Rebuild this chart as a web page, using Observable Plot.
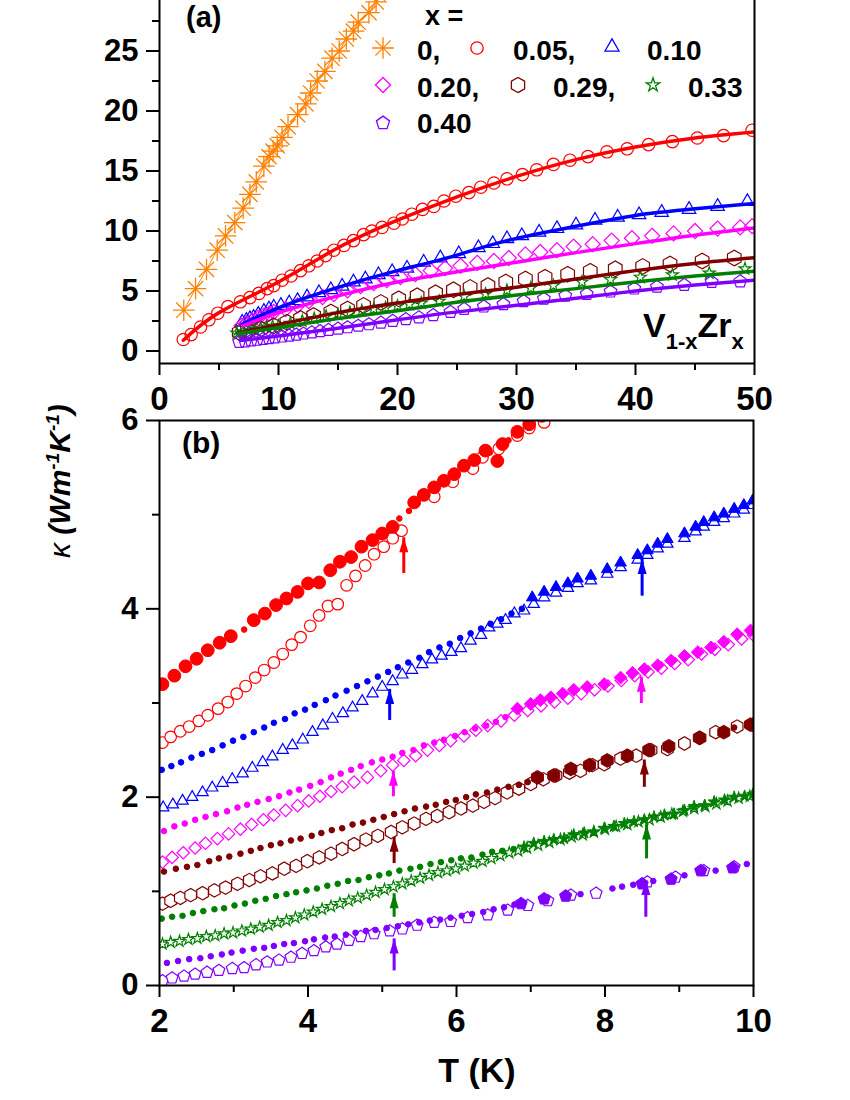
<!DOCTYPE html>
<html><head><meta charset="utf-8">
<script src="https://cdn.jsdelivr.net/npm/d3@7"></script>
<script src="https://cdn.jsdelivr.net/npm/@observablehq/plot@0.6"></script>
<style>
body{margin:0;background:#fff;}
#wrap{position:relative;width:850px;height:1100px;overflow:hidden;}
#wrap svg{overflow:visible;position:absolute;left:0;}
#wrap svg text{font-family:"Liberation Sans",Arial,sans-serif;font-weight:bold;fill:#000;}
</style></head><body><div id="wrap"></div>
<script>
// ---------- tick values ----------
const aXTicks = [0,10,20,30,40,50], aXMinor = [5,15,25,35,45];
const aYTicks = [0,5,10,15,20,25], aYMinor = [2.5,7.5,12.5,17.5,22.5,27.5];
const bXTicks = [2,4,6,8,10], bXMinor = [3,5,7,9];
const bYTicks = [0,2,4,6], bYMinor = [1,3,5];
const aXDomain = [0,50], aYDomain = [-1.04,29.21];
const bXDomain = [2,10], bYDomain = [0,6];

// ---------- panel (a): data points [T, kappa] ----------
const aX00 = [[2.04,3.4],[3.03,5.2],[3.95,6.8],[4.85,8.4],[5.55,9.6],[6.33,10.7],[7.03,11.9],[7.6,13.05],[8.13,14.1],[8.77,15.4],[9.2,16.2],[9.55,16.65],[9.9,17.1],[10.3,17.8],[10.8,18.7],[11.6,19.7],[12.3,20.6],[12.7,21.5],[13.25,22.5],[13.9,23.3],[14.5,24.4],[15.1,25.0],[15.7,26.0],[16.3,26.65],[16.7,27.4],[17.6,28.2],[18.2,29.1],[18.9,30.0],[19.6,31.0]];
const aX05 = [[2.0,0.96],[2.66,1.37],[3.45,2.0],[4.15,2.6],[4.9,3.15],[5.75,3.7],[6.8,4.1],[7.6,4.45],[8.35,4.8],[9.05,5.2],[9.6,5.45],[10.3,5.9],[11.05,6.25],[11.85,6.7],[12.55,7.1],[13.25,7.5],[13.95,7.95],[14.65,8.4],[15.5,8.8],[16.3,9.2],[17.15,9.7],[17.85,10.0],[18.7,10.3],[19.7,10.65],[20.4,11.0],[21.2,11.4],[22.1,11.8],[23.05,12.05],[23.9,12.5],[24.9,12.9],[26.0,13.2],[27.0,13.65],[28.1,14.0],[29.2,14.35],[30.5,14.7],[31.7,15.1],[33.1,15.55],[34.5,15.9],[36.0,16.2],[37.6,16.6],[39.3,16.85],[41.1,17.2],[43.1,17.45],[45.2,17.75],[47.4,17.95],[49.8,18.4]];
const aX10 = [[6.95,2.4],[7.3,2.55],[7.6,2.7],[7.9,2.8],[8.3,3.05],[8.77,3.3],[9.2,3.5],[9.6,3.65],[10.2,3.8],[10.9,4.0],[11.6,4.2],[12.4,4.5],[13.4,4.85],[14.4,5.1],[15.35,5.4],[16.3,5.75],[17.3,6.0],[18.4,6.35],[19.55,6.6],[20.8,6.9],[22.2,7.4],[23.6,7.75],[25.15,8.1],[26.8,8.6],[28.0,8.95],[29.2,9.35],[30.45,9.6],[31.9,9.9],[33.4,10.2],[35.0,10.5],[36.6,10.9],[38.5,11.15],[40.3,11.35],[42.2,11.55],[44.5,11.8],[46.9,12.05],[49.4,12.45]];
const aX20 = [[6.9,2.1],[7.3,2.3],[7.8,2.55],[8.3,2.75],[8.77,2.95],[9.2,3.1],[9.6,3.25],[10.6,3.5],[11.6,3.8],[12.55,4.15],[13.7,4.5],[14.65,4.75],[15.8,5.05],[16.9,5.4],[18.0,5.65],[19.1,5.9],[20.25,6.15],[21.5,6.4],[22.8,6.7],[24.0,6.9],[25.3,7.1],[26.7,7.35],[28.1,7.5],[29.35,7.75],[30.75,8.05],[32.0,8.25],[33.4,8.4],[34.8,8.7],[36.4,8.9],[38.0,9.2],[39.7,9.4],[41.4,9.6],[43.2,9.8],[45.0,10.0],[46.9,10.2],[48.8,10.3],[49.8,10.4]];
const aX29 = [[6.7,1.55],[7.4,1.7],[8.5,1.85],[9.6,2.1],[10.7,2.4],[11.85,2.7],[12.95,2.95],[14.4,3.25],[15.8,3.5],[17.15,3.8],[18.6,4.05],[20.1,4.35],[21.65,4.6],[23.2,4.85],[24.7,5.1],[26.1,5.3],[27.6,5.45],[29.1,5.75],[30.75,6.0],[32.4,6.15],[34.3,6.4],[36.2,6.65],[38.3,6.85],[40.6,7.05],[42.9,7.25],[45.6,7.5],[48.3,7.75]];
const aX33 = [[6.5,1.5],[7.0,1.6],[7.5,1.7],[8.0,1.8],[8.5,1.9],[9.0,2.0],[9.5,2.05],[10,2.1],[11,2.3],[12,2.5],[13,2.7],[14,2.9],[15,3.05],[16,3.2],[17,3.35],[18,3.5],[19,3.6],[20,3.75],[21,3.9],[22,4.0],[23.5,4.15],[25.6,4.55],[27.4,4.75],[29.2,5.05],[31.2,5.25],[33.1,5.45],[35.5,5.75],[37.9,5.95],[40.4,6.15],[43.1,6.35],[46.2,6.5],[49.2,6.85]];
const aX40 = [[6.7,0.75],[7.2,0.8],[7.7,0.87],[8.2,0.93],[8.7,1.0],[9.2,1.06],[9.7,1.12],[10.3,1.2],[10.9,1.28],[11.5,1.36],[12.1,1.45],[12.8,1.55],[13.5,1.65],[14.2,1.75],[15.0,1.86],[15.8,1.97],[16.7,2.1],[17.6,2.22],[18.6,2.36],[19.6,2.5],[20.7,2.65],[21.8,2.8],[23.0,2.98],[24.45,3.25],[25.6,3.5],[27.25,3.7],[28.9,3.9],[30.6,4.15],[32.3,4.35],[34.1,4.6],[35.9,4.75],[37.9,4.95],[39.9,5.2],[41.8,5.35],[44.1,5.5],[46.4,5.75],[48.8,5.8]];
// fit curves (knots)
const fitX05 = [[2,0.9],[5,3.2],[10,5.75],[15,8.6],[20,10.9],[25,12.85],[30,14.55],[35,15.95],[40,17.0],[45,17.75],[50,18.25]];
const fitX10 = [[7,2.25],[10,3.6],[15,5.3],[20,6.7],[24.5,7.85],[29.2,9.2],[35,10.4],[40,11.3],[45,11.85],[50,12.3]];
const fitX20 = [[7,2.1],[10,3.2],[15,4.6],[20,5.75],[25,6.6],[30,7.4],[35,8.2],[40,8.95],[45,9.65],[50,10.25]];
const fitX29 = [[6.5,1.5],[10,2.2],[15,3.2],[20,4.0],[24.5,4.65],[29.5,5.25],[35,6.0],[40,6.7],[45,7.3],[50,7.77]];
const fitX33 = [[6.5,1.45],[10,1.95],[15,2.7],[20,3.35],[24.5,4.0],[29.5,4.6],[35,5.2],[40,5.75],[45,6.25],[50,6.65]];
const fitX40 = [[6.8,0.87],[10,1.25],[15,1.9],[20,2.6],[24.5,3.2],[29.5,3.75],[35,4.4],[40,5.0],[45,5.5],[50,5.9]];

// ---------- panel (b): data points [T, kappa] ----------
const bRedOpen = [[2.04,2.58],[2.15,2.64],[2.28,2.70],[2.40,2.75],[2.53,2.81],[2.65,2.87],[2.79,2.94],[2.92,3.01],[3.04,3.10],[3.16,3.18],[3.29,3.27],[3.41,3.35],[3.54,3.43],[3.66,3.52],[3.78,3.62],[3.90,3.70],[4.03,3.82],[4.15,3.93],[4.27,4.03],[4.40,4.05],[4.52,4.25],[4.64,4.35],[4.77,4.46],[4.89,4.58],[5.02,4.66],[5.14,4.75],[5.26,4.83],[5.70,5.19],[5.95,5.35],[6.22,5.49],[6.35,5.61],[6.57,5.70],[6.82,5.84],[6.98,5.92],[7.18,5.98],[7.35,6.08]];
const bRedFill = [[2.04,3.20],[2.20,3.29],[2.35,3.39],[2.50,3.47],[2.65,3.56],[2.81,3.64],[2.96,3.71],[3.27,3.88],[3.42,3.95],[3.57,4.04],[3.71,4.11],[3.86,4.18],[4.00,4.27],[4.15,4.28],[4.30,4.41],[4.43,4.50],[4.58,4.55],[4.72,4.66],[4.87,4.73],[5.00,4.80],[5.14,4.87],[5.43,5.13],[5.56,5.21],[5.70,5.29],[5.83,5.36],[5.97,5.43],[6.10,5.52],[6.24,5.58],[6.39,5.68],[6.55,5.57],[6.62,5.75],[6.82,5.88],[6.98,5.96],[7.15,6.05]];
const bRedDots = [[3.14,3.78],[5.23,4.96],[5.36,5.04],[6.45,5.66],[6.70,5.79]];
const bBlueDots = [[2.03,2.29],[2.16,2.33],[2.29,2.37],[2.43,2.42],[2.57,2.46],[2.71,2.50],[2.85,2.55],[2.99,2.60],[3.13,2.64],[3.27,2.69],[3.41,2.74],[3.54,2.79],[3.69,2.83],[3.82,2.89],[3.96,2.93],[4.09,2.98],[4.24,3.03],[4.37,3.08],[4.52,3.13],[4.66,3.18],[4.80,3.23],[4.94,3.28],[5.08,3.33],[5.21,3.38],[5.35,3.43],[5.50,3.48],[5.63,3.54],[5.77,3.59],[5.91,3.63],[6.05,3.69],[6.19,3.74],[6.33,3.79],[6.46,3.84],[6.60,3.89],[6.74,3.95],[6.88,4.00]];
const bBlueOpen = [[2.05,1.89],[2.18,1.92],[2.31,1.96],[2.44,2.00],[2.58,2.05],[2.71,2.10],[2.85,2.15],[2.98,2.19],[3.12,2.25],[3.25,2.31],[3.39,2.37],[3.52,2.43],[3.66,2.50],[3.79,2.55],[3.93,2.61],[4.06,2.69],[4.20,2.76],[4.33,2.83],[4.47,2.89],[4.60,2.95],[4.73,3.02],[4.87,3.10],[5.00,3.17],[5.14,3.23],[5.27,3.30],[5.40,3.35],[5.54,3.41],[5.67,3.46],[5.80,3.50],[5.93,3.54],[6.06,3.58],[6.19,3.66],[6.33,3.72],[6.44,3.80],[6.55,3.84],[6.66,3.88],[6.78,3.95],[6.91,3.98],[7.04,4.05],[7.18,4.12],[7.34,4.17],[7.50,4.22],[7.63,4.27],[7.81,4.30],[8.03,4.37],[8.21,4.44],[8.44,4.52],[8.57,4.57],[8.71,4.64],[8.84,4.69],[9.07,4.75],[9.22,4.82],[9.33,4.87],[9.47,4.92],[9.60,4.96],[9.74,5.01],[9.87,5.05],[9.99,5.10]];
const bBlueFill = [[7.02,4.12],[7.18,4.18],[7.34,4.23],[7.50,4.27],[7.63,4.32],[7.81,4.35],[8.03,4.42],[8.21,4.49],[8.44,4.57],[8.57,4.62],[8.71,4.69],[8.84,4.74],[9.07,4.80],[9.22,4.87],[9.33,4.92],[9.47,4.97],[9.60,5.01],[9.74,5.06],[9.87,5.10],[9.99,5.15]];
const bMagDots = [[2.06,1.64],[2.20,1.69],[2.34,1.72],[2.48,1.76],[2.62,1.79],[2.76,1.82],[2.91,1.85],[3.05,1.89],[3.18,1.92],[3.32,1.95],[3.47,1.98],[3.61,2.01],[3.75,2.05],[3.88,2.08],[4.03,2.12],[4.17,2.16],[4.31,2.21],[4.44,2.25],[4.58,2.29],[4.71,2.33],[4.86,2.37],[5.00,2.40],[5.14,2.43],[5.27,2.47],[5.42,2.50],[5.56,2.55],[5.70,2.58],[5.83,2.61],[5.98,2.65],[6.11,2.69],[6.25,2.73],[6.40,2.76],[6.53,2.80],[6.66,2.85]];
const bMagOpen = [[2.04,1.31],[2.17,1.36],[2.32,1.41],[2.48,1.46],[2.62,1.51],[2.78,1.56],[2.93,1.61],[3.09,1.66],[3.24,1.71],[3.40,1.76],[3.54,1.81],[3.70,1.86],[3.86,1.91],[4.01,1.96],[4.16,2.01],[4.31,2.06],[4.46,2.11],[4.62,2.16],[4.80,2.21],[4.98,2.28],[5.14,2.34],[5.29,2.39],[5.45,2.44],[5.61,2.50],[5.77,2.55],[5.92,2.60],[6.10,2.65],[6.26,2.71],[6.42,2.76],[6.60,2.81],[6.78,2.87],[6.96,2.92],[7.14,2.97],[7.32,3.01],[7.50,3.05],[7.68,3.10],[7.86,3.14],[8.04,3.18],[8.22,3.24],[8.40,3.29],[8.58,3.33],[8.76,3.37],[8.94,3.42],[9.12,3.46],[9.30,3.52],[9.48,3.57],[9.66,3.62],[9.84,3.68],[10.00,3.72]];
const bMagFill = [[6.82,2.94],[7.00,2.99],[7.13,3.03],[7.27,3.06],[7.43,3.10],[7.58,3.14],[7.76,3.17],[7.99,3.20],[8.21,3.27],[8.37,3.32],[8.53,3.36],[8.71,3.40],[8.89,3.45],[9.07,3.50],[9.25,3.54],[9.43,3.59],[9.60,3.65],[9.78,3.73],[9.96,3.77]];
const bBrnDots = [[2.06,1.21],[2.22,1.24],[2.37,1.26],[2.51,1.28],[2.67,1.32],[2.80,1.35],[2.94,1.37],[3.09,1.40],[3.23,1.43],[3.36,1.46],[3.50,1.49],[3.63,1.51],[3.77,1.54],[3.90,1.56],[4.05,1.59],[4.18,1.62],[4.32,1.65],[4.46,1.67],[4.60,1.71],[4.74,1.73],[4.88,1.76],[5.02,1.79],[5.16,1.82],[5.30,1.85],[5.44,1.88],[5.59,1.90],[5.72,1.92],[5.86,1.95],[5.99,1.97],[6.13,2.00],[6.26,2.03],[6.41,2.05],[6.55,2.08],[6.70,2.11],[6.84,2.13],[6.96,2.16],[9.74,2.74]];
const bBrnOpen = [[2.04,0.87],[2.15,0.90],[2.28,0.93],[2.42,0.96],[2.58,0.98],[2.74,1.01],[2.89,1.04],[3.05,1.08],[3.21,1.12],[3.36,1.16],[3.52,1.19],[3.68,1.24],[3.84,1.27],[3.99,1.32],[4.15,1.36],[4.31,1.40],[4.46,1.45],[4.62,1.50],[4.78,1.55],[4.94,1.59],[5.12,1.63],[5.27,1.68],[5.43,1.72],[5.59,1.77],[5.74,1.80],[5.90,1.84],[6.06,1.88],[6.22,1.91],[6.37,1.95],[6.52,1.99],[6.68,2.05],[6.84,2.09],[7.00,2.14],[7.17,2.19],[7.34,2.23],[7.52,2.26],[7.67,2.28],[7.83,2.34],[7.99,2.35],[8.21,2.41],[8.42,2.44],[8.62,2.50],[8.84,2.51],[9.07,2.57],[9.28,2.63],[9.49,2.69],[9.78,2.75],[9.99,2.77]];
const bBrnFill = [[7.09,2.21],[7.31,2.23],[7.54,2.30],[7.79,2.34],[8.03,2.39],[8.30,2.44],[8.59,2.50],[8.86,2.54],[9.27,2.63],[9.60,2.69],[9.96,2.77]];
const bGrnDots = [[2.03,0.71],[2.17,0.73],[2.31,0.74],[2.45,0.77],[2.59,0.79],[2.74,0.81],[2.87,0.82],[3.01,0.85],[3.15,0.87],[3.29,0.90],[3.43,0.92],[3.57,0.95],[3.71,0.97],[3.84,0.99],[3.98,1.01],[4.12,1.03],[4.26,1.06],[4.40,1.08],[4.54,1.11],[4.68,1.12],[4.82,1.15],[4.96,1.17],[5.09,1.19],[5.23,1.22],[5.38,1.24],[5.51,1.26],[5.65,1.29],[5.79,1.31],[5.93,1.33],[6.06,1.35],[6.20,1.36],[6.35,1.39],[6.48,1.42],[6.62,1.43],[6.77,1.45]];
const bGrnOpen = [[2.04,0.44],[2.15,0.46],[2.27,0.47],[2.39,0.49],[2.51,0.50],[2.63,0.52],[2.75,0.53],[2.87,0.55],[2.99,0.56],[3.11,0.58],[3.23,0.60],[3.35,0.62],[3.47,0.64],[3.59,0.67],[3.71,0.69],[3.83,0.72],[3.95,0.75],[4.07,0.78],[4.19,0.81],[4.31,0.84],[4.43,0.87],[4.55,0.90],[4.67,0.93],[4.79,0.96],[4.91,0.99],[5.03,1.02],[5.15,1.05],[5.27,1.08],[5.39,1.11],[5.51,1.14],[5.63,1.17],[5.75,1.20],[5.87,1.22],[5.99,1.24],[6.11,1.27],[6.23,1.30],[6.35,1.32],[6.47,1.35],[6.59,1.38],[6.71,1.41],[6.83,1.43],[6.95,1.46],[7.10,1.49],[7.25,1.52],[7.40,1.55],[7.55,1.58],[7.70,1.60],[7.85,1.63],[8.00,1.66],[8.15,1.69],[8.30,1.71],[8.45,1.74],[8.60,1.76],[8.75,1.79],[8.90,1.82],[9.05,1.85],[9.20,1.88],[9.35,1.90],[9.50,1.93],[9.65,1.96],[9.80,1.99],[9.95,2.01]];
const bGrnFill = [[6.91,1.47],[7.04,1.51],[7.18,1.53],[7.31,1.55],[7.45,1.56],[7.58,1.60],[7.72,1.62],[7.85,1.63],[7.99,1.67],[8.12,1.69],[8.26,1.72],[8.39,1.74],[8.53,1.76],[8.66,1.79],[8.80,1.81],[8.93,1.82],[9.07,1.86],[9.20,1.90],[9.34,1.91],[9.47,1.95],[9.61,1.97],[9.74,2.00],[9.88,2.01],[9.99,2.03]];
const bPurDots = [[2.10,0.24],[2.25,0.26],[2.40,0.28],[2.55,0.29],[2.69,0.31],[2.84,0.33],[2.97,0.35],[3.12,0.37],[3.27,0.39],[3.41,0.40],[3.54,0.42],[3.68,0.44],[3.81,0.45],[3.96,0.47],[4.08,0.49],[4.23,0.51],[4.36,0.52],[4.51,0.54],[4.64,0.56],[4.78,0.58],[4.91,0.59],[5.06,0.61],[5.21,0.63],[5.35,0.65],[5.50,0.67],[5.64,0.69],[5.78,0.70],[5.92,0.72],[6.07,0.74],[6.21,0.76],[6.36,0.78],[6.50,0.81],[6.64,0.83],[6.78,0.86],[7.67,0.97],[8.10,1.03],[8.23,1.05],[8.38,1.07],[8.65,1.11],[9.07,1.17],[9.49,1.22],[9.91,1.29]];
const bPurOpen = [[2.04,0.05],[2.17,0.08],[2.33,0.10],[2.48,0.12],[2.64,0.14],[2.80,0.16],[2.98,0.18],[3.14,0.19],[3.30,0.22],[3.45,0.25],[3.61,0.27],[3.77,0.30],[3.92,0.34],[4.08,0.37],[4.24,0.41],[4.39,0.44],[4.55,0.48],[4.71,0.52],[4.89,0.55],[5.10,0.58],[5.27,0.60],[5.47,0.64],[5.70,0.67],[5.92,0.68],[6.15,0.72],[6.42,0.75],[6.69,0.80],[6.96,0.85],[7.23,0.90],[7.54,0.96],[7.88,0.98],[8.57,1.10],[8.95,1.15],[9.33,1.22],[9.74,1.26]];
const bPurFill = [[6.87,0.87],[7.18,0.92],[7.47,0.95],[8.50,1.08],[8.89,1.13],[9.29,1.22],[9.72,1.25]];
// arrows: [T, kappa tail, kappa tip, series]
const bArrows = [[5.29,4.38,4.76,"x05"],[5.10,2.82,3.15,"x10"],[8.50,4.14,4.53,"x10"],[5.15,2.01,2.28,"x20"],[8.49,3.00,3.28,"x20"],[5.16,1.30,1.58,"x29"],[8.53,2.11,2.40,"x29"],[5.16,0.73,0.98,"x33"],[8.56,1.35,1.71,"x33"],[5.16,0.16,0.50,"x40"],[8.55,0.73,1.12,"x40"]];

// ---------- styles ----------
const col = {x00:"#ff8000", x05:"#ff0000", x10:"#0000ff", x20:"#ff00ff", x29:"#800000", x33:"#008000", x40:"#8000ff"};
const pentagon = {draw(ctx, size){ const R = Math.sqrt(size/2.3776); for (let k=0;k<5;k++){ const a=-Math.PI/2+k*2*Math.PI/5; const px=R*Math.cos(a), py=R*Math.sin(a); if(k) ctx.lineTo(px,py); else ctx.moveTo(px,py);} ctx.closePath(); }};
const hexagon = {draw(ctx, size){ const rx=Math.sqrt(size/Math.PI), ry=rx*2/Math.sqrt(3), hy=ry/2; ctx.moveTo(0,ry); ctx.lineTo(rx,hy); ctx.lineTo(rx,-hy); ctx.lineTo(0,-ry); ctx.lineTo(-rx,-hy); ctx.lineTo(-rx,hy); ctx.closePath(); }};
const arrowHead = {draw(ctx){ ctx.moveTo(0,0); ctx.lineTo(4.5,15); ctx.lineTo(-4.5,15); ctx.closePath(); }};
const X = d => d[0], Y = d => d[1];
const FONT = "Liberation Sans, Arial, sans-serif";
const intFmt = d => String(d);

function openM(data, symbol, color, r, fill = "none", sw = 1.2) {
  return Plot.dot(data, {x: X, y: Y, symbol, r, stroke: color, fill, strokeWidth: sw, clip: true});
}
function fillM(data, symbol, color, r) {
  return Plot.dot(data, {x: X, y: Y, symbol, r, fill: color, stroke: color, strokeWidth: 1, clip: true});
}
function fitL(data, color) {
  return Plot.line(data, {x: X, y: Y, stroke: color, strokeWidth: 3.5, curve: "natural", clip: true});
}

const wrap = document.getElementById("wrap");

// ---------- panel (a) ----------
const plotA = Plot.plot({
  width: 850, height: 415,
  marginLeft: 159, marginRight: 96, marginTop: 0, marginBottom: 52,
  x: {domain: aXDomain}, y: {domain: aYDomain},
  style: {fontFamily: FONT, overflow: "visible", background: "transparent"},
  marks: [
    Plot.line(aX00, {x: X, y: Y, stroke: col.x00, strokeWidth: 1, clip: true}),
    openM(aX00, "plus", col.x00, 7, "none", 1.3),
    openM(aX00, "times", col.x00, 7, "none", 1.3),
    Plot.dot(aX00, {x: X, y: Y, r: 1.6, fill: col.x00, clip: true}),
    openM(aX05, "circle", col.x05, 6.2),
    openM(aX10, "triangle", col.x10, 5),
    openM(aX20, "diamond2", col.x20, 6.8),
    openM(aX29, hexagon, col.x29, 6.8),
    openM(aX33, "star", col.x33, 3.8),
    openM(aX40, pentagon, col.x40, 5.8),
    fitL(fitX05, col.x05), fitL(fitX10, col.x10), fitL(fitX20, col.x20),
    fitL(fitX29, col.x29), fitL(fitX33, col.x33), fitL(fitX40, col.x40),
    Plot.ruleX([aXDomain[0]], {strokeWidth: 2}),
    Plot.ruleX([aXDomain[1]], {strokeWidth: 2}),
    Plot.ruleY([aYDomain[0]], {strokeWidth: 2}),
    Plot.axisX(aXTicks, {tickSize: 12, tickPadding: 11, fontSize: 33, strokeWidth: 2, tickFormat: intFmt, label: null}),
    Plot.axisX(aXMinor, {tickSize: 7, tickFormat: () => "", strokeWidth: 2, label: null}),
    Plot.axisY(aYTicks, {tickSize: 13, tickPadding: 8, fontSize: 31, strokeWidth: 2, tickFormat: intFmt, label: null}),
    Plot.axisY(aYMinor, {tickSize: 7, tickFormat: () => "", strokeWidth: 2, label: null})
  ]
});
plotA.style.top = "0px";
wrap.appendChild(plotA);

// ---------- panel (b) ----------
const arrowData = bArrows.map(([t, a, b, s]) => ({t, a, b, c: col[s]}));
const plotB = Plot.plot({
  width: 850, height: 685,
  marginLeft: 159, marginRight: 97, marginTop: 5, marginBottom: 115,
  x: {domain: bXDomain}, y: {domain: bYDomain},
  style: {fontFamily: FONT, overflow: "visible", background: "transparent"},
  marks: [
    openM(bRedOpen, "circle", col.x05, 5.8, "white"),
    openM(bBlueOpen, "triangle", col.x10, 4.2, "white"),
    openM(bMagOpen, "diamond2", col.x20, 5.6, "white"),
    openM(bBrnOpen, hexagon, col.x29, 5.8, "white"),
    openM(bGrnOpen, "star", col.x33, 3.6, "white"),
    openM(bPurOpen, pentagon, col.x40, 5.4, "white"),
    fillM(bRedDots, "circle", col.x05, 2.8),
    fillM(bBlueDots, "circle", col.x10, 2.8),
    fillM(bMagDots, "circle", col.x20, 2.8),
    fillM(bBrnDots, "circle", col.x29, 2.8),
    fillM(bGrnDots, "circle", col.x33, 2.8),
    fillM(bPurDots, "circle", col.x40, 2.8),
    fillM(bRedFill, "circle", col.x05, 6.4),
    fillM(bBlueFill, "triangle", col.x10, 4.3),
    fillM(bMagFill, "diamond2", col.x20, 5.8),
    fillM(bBrnFill, hexagon, col.x29, 6),
    fillM(bGrnFill, "star", col.x33, 3.8),
    fillM(bPurFill, pentagon, col.x40, 5.6),
    Plot.link(arrowData, {x1: "t", x2: "t", y1: "a", y2: "b", stroke: "c", strokeWidth: 3}),
    Plot.dot(arrowData, {x: "t", y: "b", symbol: arrowHead, fill: "c", stroke: "none"}),
    Plot.frame({strokeWidth: 2}),
    Plot.axisX(bXTicks, {tickSize: 12, tickPadding: 11, fontSize: 33, strokeWidth: 2, tickFormat: intFmt, label: null}),
    Plot.axisX(bXMinor, {tickSize: 7, tickFormat: () => "", strokeWidth: 2, label: null}),
    Plot.axisY(bYTicks, {tickSize: 13, tickPadding: 8, fontSize: 31, strokeWidth: 2, tickFormat: intFmt, label: null}),
    Plot.axisY(bYMinor, {tickSize: 7, tickFormat: () => "", strokeWidth: 2, label: null})
  ]
});
plotB.style.top = "415px";
wrap.appendChild(plotB);

// ---------- annotations: legend, panel labels, axis titles ----------
const ov = d3.select(wrap).append("svg").attr("width", 850).attr("height", 1100).style("top", "0px");
const sym = (type, r) => d3.symbol(type, Math.PI * r * r)();
const legend = [
  {types: [d3.symbolPlus, d3.symbolTimes], r: 7, c: col.x00, sx: 383, sy: 48, label: "0,", tx: 417, ty: 60},
  {types: [d3.symbolCircle], r: 6.2, c: col.x05, sx: 477, sy: 48, label: "0.05,", tx: 513, ty: 60},
  {types: [d3.symbolTriangle], r: 5.2, c: col.x10, sx: 612, sy: 47, label: "0.10", tx: 647, ty: 60},
  {types: [d3.symbolDiamond2], r: 6.8, c: col.x20, sx: 383, sy: 85, label: "0.20,", tx: 417, ty: 97},
  {types: [hexagon], r: 6.6, c: col.x29, sx: 518, sy: 85, label: "0.29,", tx: 553, ty: 97},
  {types: [d3.symbolStar], r: 4.3, c: col.x33, sx: 653, sy: 85, label: "0.33", tx: 688, ty: 97},
  {types: [pentagon], r: 6, c: col.x40, sx: 383, sy: 123, label: "0.40", tx: 417, ty: 133}
];
ov.append("text").attr("x", 425).attr("y", 25).attr("font-size", 27).text("x =");
for (const it of legend) {
  for (const t of it.types) {
    ov.append("path").attr("d", sym(t, it.r)).attr("transform", `translate(${it.sx},${it.sy})`)
      .attr("fill", "none").attr("stroke", it.c).attr("stroke-width", 1.3);
  }
  ov.append("text").attr("x", it.tx).attr("y", it.ty).attr("font-size", 28).text(it.label);
}
ov.append("text").attr("x", 186).attr("y", 27).attr("font-size", 29).text("(a)");
ov.append("text").attr("x", 182).attr("y", 453).attr("font-size", 30).text("(b)");
const vz = ov.append("text").attr("x", 643).attr("y", 337).attr("font-size", 34);
vz.append("tspan").text("V");
vz.append("tspan").attr("font-size", 22).attr("dy", 12).text("1-x");
vz.append("tspan").attr("dy", -12).text("Zr");
vz.append("tspan").attr("font-size", 22).attr("dy", 12).text("x");
ov.append("text").attr("x", 477).attr("y", 1082).attr("font-size", 34).attr("text-anchor", "middle").text("T (K)");
const kl = ov.append("text").attr("transform", "translate(70,558) rotate(-90)").attr("font-size", 30).attr("font-style", "italic");
kl.append("tspan").attr("font-weight", "normal").text("\u03ba");
kl.append("tspan").text(" (Wm");
kl.append("tspan").attr("font-size", 19).attr("dy", -11).text("-1");
kl.append("tspan").attr("dy", 11).text("K");
kl.append("tspan").attr("font-size", 19).attr("dy", -11).text("-1");
kl.append("tspan").attr("dy", 11).text(")");
</script></body></html>
